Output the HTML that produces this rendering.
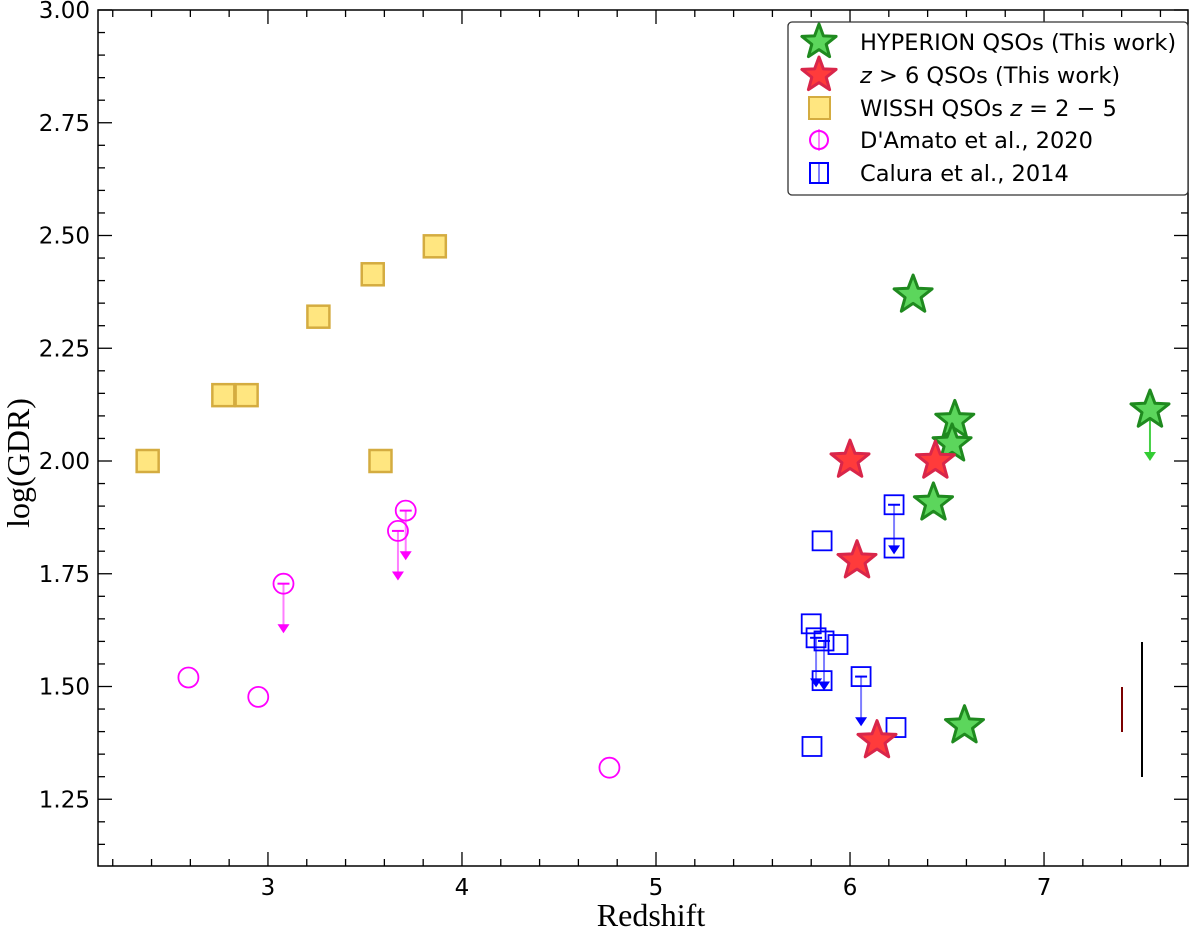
<!DOCTYPE html>
<html><head><meta charset="utf-8"><style>
body{margin:0;background:#fff}
svg{display:block}
.tl{font-family:"DejaVu Sans",sans-serif;font-size:23px;fill:#000}
.al{font-family:"Liberation Serif",serif;font-size:32px;fill:#000}
.lg{font-family:"DejaVu Sans",sans-serif;font-size:22.5px;fill:#000}
</style></head><body>
<svg id="chart" width="1200" height="934">
<g id="axes"></g><g id="marks"></g><g id="legend"></g>
</svg>
<script>
const wisshZ=[2.38,2.77,2.89,3.26,3.54,3.86,3.58];
const wisshY=[2.00,2.146,2.146,2.32,2.414,2.476,2.00];
const damZ=[2.59,2.95,4.76,3.08,3.67,3.71];
const damY=[1.52,1.477,1.32,1.728,1.845,1.89];
const damLim=[0,0,0,1,1,1];
const calZ=[6.227,5.856,6.227,5.80,5.825,5.866,5.938,5.856,6.057,6.237,5.804];
const calY=[1.903,1.823,1.807,1.639,1.608,1.601,1.593,1.513,1.522,1.409,1.367];
const calLim=[1,0,0,0,1,1,0,0,1,0,0];
const hypZ=[6.325,6.54,6.526,6.43,6.59,7.546];
const hypY=[2.368,2.09,2.038,1.907,1.413,2.113];
const hypLim=[0,0,0,0,0,1];
const redZ=[6.0,6.44,6.036,6.139];
const redY=[2.002,2.0,1.779,1.38];
const xTicks=[3,4,5,6,7];
const yTicks=[1.25,1.50,1.75,2.00,2.25,2.50,2.75,3.00];
const NS="http://www.w3.org/2000/svg";
const L=98,R=1188,T=10,B=866,XMIN=2.124,XMAX=7.742,YMIN=1.102,YMAX=3.0;
const X=z=>L+(z-XMIN)/(XMAX-XMIN)*(R-L);
const Y=v=>B-(v-YMIN)/(YMAX-YMIN)*(B-T);
function mk(tag,attrs,parent,txt){const e=document.createElementNS(NS,tag);for(const k in attrs)e.setAttribute(k,attrs[k]);if(txt!==undefined)e.textContent=txt;parent.appendChild(e);return e;}
const axes=document.getElementById('axes'),marks=document.getElementById('marks'),lgd=document.getElementById('legend');
const frame=mk('rect',{x:L,y:T,width:R-L,height:B-T,fill:'none',stroke:'#000','stroke-width':1.5},axes);


for(let i=Math.ceil(XMIN*5);i<=XMAX*5;i++){const z=i/5,x=X(z),maj=Math.abs(z-Math.round(z))<1e-6,len=maj?14:7;
mk('line',{x1:x,x2:x,y1:B,y2:B-len,stroke:'#000','stroke-width':1.3},axes);mk('line',{x1:x,x2:x,y1:T,y2:T+len,stroke:'#000','stroke-width':1.3},axes);}
for(let i=Math.ceil(YMIN*20);i<=YMAX*20;i++){const v=i/20,y=Y(v),maj=Math.abs(v*4-Math.round(v*4))<1e-6,len=maj?14:7;
mk('line',{x1:L,x2:L+len,y1:y,y2:y,stroke:'#000','stroke-width':1.3},axes);mk('line',{x1:R,x2:R-len,y1:y,y2:y,stroke:'#000','stroke-width':1.3},axes);}
xTicks.forEach(t=>{const e=mk('text',{x:X(t),y:B+29,'text-anchor':'middle',class:'tl'},axes,String(t));

});
yTicks.forEach(t=>{const e=mk('text',{x:L-8,y:Y(t)+8,'text-anchor':'end',class:'tl'},axes,t.toFixed(2));

});
const xt=mk('text',{x:651,y:926,'text-anchor':'middle',class:'al'},axes,'Redshift');


const yt=mk('text',{x:0,y:0,'text-anchor':'middle',class:'al',transform:'translate(29,463) rotate(-90)'},axes,'log(GDR)');


function starPts(cx,cy,r){let p=[];for(let i=0;i<10;i++){const a=-Math.PI/2+i*Math.PI/5,rr=i%2?r*0.42:r;p.push((cx+rr*Math.cos(a)).toFixed(1)+','+(cy+rr*Math.sin(a)).toFixed(1));}return p.join(' ');}
function arrow(x,y1,y2,col,op){mk('line',{x1:x,x2:x,y1:y1,y2:y2-6,stroke:col,'stroke-width':2,opacity:op},marks);mk('polygon',{points:`${x-6},${y2-9} ${x+6},${y2-9} ${x},${y2}`,fill:col},marks);}
mk('line',{x1:1122,x2:1122,y1:687,y2:732,stroke:'#7a0000','stroke-width':2},marks);
mk('line',{x1:1142,x2:1142,y1:642,y2:777,stroke:'#000','stroke-width':2},marks);
wisshZ.forEach((z,i)=>{const x=X(z),y=Y(wisshY[i]);const e=mk('rect',{x:x-11,y:y-11,width:22,height:22,fill:'#ffe680',stroke:'#d4ac40','stroke-width':2.5},marks);

});
damZ.forEach((z,i)=>{const x=X(z),y=Y(damY[i]);if(damLim[i]){arrow(x,y,Y(damY[i]-0.11),'#ff00ff',0.5);mk('line',{x1:x-6,x2:x+6,y1:y,y2:y,stroke:'#ff00ff','stroke-width':2},marks);}
const e=mk('circle',{cx:x,cy:y,r:10,fill:'none',stroke:'#ff00ff','stroke-width':1.8},marks);

});
calZ.forEach((z,i)=>{const x=X(z),y=Y(calY[i]);if(calLim[i]){arrow(x,y,Y(calY[i]-0.11),'#0000ff',0.5);mk('line',{x1:x-6,x2:x+6,y1:y,y2:y,stroke:'#0000ff','stroke-width':2},marks);}
const e=mk('rect',{x:x-9.5,y:y-9.5,width:19,height:19,fill:'none',stroke:'#0000ff','stroke-width':1.8},marks);

});
hypZ.forEach((z,i)=>{const x=X(z),y=Y(hypY[i]);if(hypLim[i]){arrow(x,y,Y(hypY[i]-0.113),'#33cc33',0.9);}
const e=mk('polygon',{points:starPts(x,y,20),fill:'#5cd65c',stroke:'#1f8a1f','stroke-width':3,'stroke-linejoin':'round'},marks);

});
redZ.forEach((z,i)=>{const x=X(z),y=Y(redY[i]);const e=mk('polygon',{points:starPts(x,y,20),fill:'#ff3b3b',stroke:'#d9264a','stroke-width':3,'stroke-linejoin':'round'},marks);

});
const lb=mk('rect',{x:788,y:22,width:400,height:173,rx:4,fill:'#fff',stroke:'#333','stroke-width':1.3},lgd);


const ly=[42,75,108,140,173];
mk('polygon',{points:starPts(819,ly[0],18),fill:'#5cd65c',stroke:'#1f8a1f','stroke-width':3,'stroke-linejoin':'round'},lgd);
mk('polygon',{points:starPts(819,ly[1],18),fill:'#ff3b3b',stroke:'#d9264a','stroke-width':3,'stroke-linejoin':'round'},lgd);
mk('rect',{x:809,y:ly[2]-11,width:21,height:22,fill:'#ffe680',stroke:'#d4ac40','stroke-width':2},lgd);
mk('circle',{cx:819,cy:ly[3],r:9,fill:'none',stroke:'#ff00ff','stroke-width':2},lgd);
mk('line',{x1:819,x2:819,y1:ly[3]-11,y2:ly[3]+11,stroke:'#ff00ff','stroke-width':1},lgd);
mk('rect',{x:810,y:ly[4]-10,width:18,height:20,fill:'none',stroke:'#0000ff','stroke-width':2},lgd);
mk('line',{x1:819,x2:819,y1:ly[4]-11,y2:ly[4]+11,stroke:'#0000ff','stroke-width':1},lgd);
const labels=['HYPERION QSOs (This work)','<tspan font-style="italic">z</tspan> &gt; 6 QSOs (This work)','WISSH QSOs <tspan font-style="italic">z</tspan> = 2 − 5',"D'Amato et al., 2020",'Calura et al., 2014'];
labels.forEach((s,i)=>{const e=mk('text',{x:860,y:ly[i]+8,class:'lg'},lgd);e.innerHTML=s;

});
</script>
</body></html>
